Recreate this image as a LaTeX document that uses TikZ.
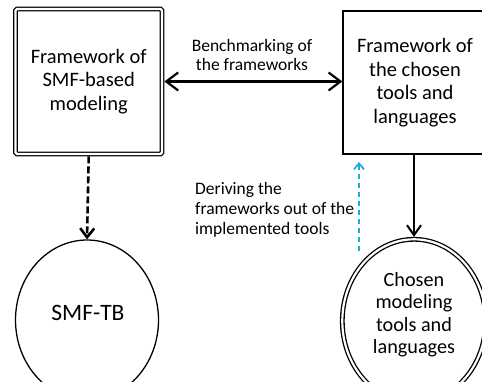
\documentclass[tikz,border=0pt]{standalone}
\usepackage{fontspec}
\setmainfont{Carlito}
\usetikzlibrary{arrows.meta,shapes.geometric}
\definecolor{lblue}{RGB}{30,170,230}
\tikzset{
  mainfont/.style={font=\fontsize{20.5}{23.7}\selectfont},
  smallfont/.style={font=\fontsize{17.5}{19.8}\selectfont},
  dblbox/.style={draw, double, double distance=2.2pt, line width=1.3pt, rounded corners=1.5pt,
     outer sep=2.4pt, inner sep=0pt, align=center, mainfont},
  plainbox/.style={draw, line width=1.3pt, outer sep=0.6pt, inner sep=0pt, align=center, mainfont},
  ell/.style={draw, ellipse, line width=1.3pt, inner sep=0pt, outer sep=0.6pt},
  dblell/.style={draw, ellipse, double, double distance=2.2pt, line width=1.3pt, inner sep=0pt, outer sep=2.4pt},
  conn/.style={line width=2.2pt},
}
\begin{document}
\begin{tikzpicture}[x=1pt,y=-1pt]
\useasboundingbox (0,0) rectangle (482,381);
\clip (0,0) rectangle (482,381);
% boxes
\node[dblbox, minimum width=146.5pt, minimum height=145pt] (smfbox) at (88.7,81.5)
  {Framework of\\SMF-based\\modeling};
\node[plainbox, minimum width=144pt, minimum height=143pt] (toolbox) at (415,82.5)
  {Framework of\\the chosen\\tools and\\languages};
% ellipses
\node[ell, minimum width=143pt, minimum height=160pt] (smfell) at (87,320) {};
\node[font=\fontsize{23.5}{28}\selectfont] (smftxt) at (88,313) {SMF-TB};
\node[dblell, minimum width=143.4pt, minimum height=163.4pt] (chosenell) at (414,321) {};
\node[align=center, font=\fontsize{20.2}{22.5}\selectfont] (chosentxt) at (414,314.5)
  {Chosen\\modeling\\tools and\\languages};
% connectors
\draw[conn, {Straight Barb[length=12pt, width=18pt]}-{Straight Barb[length=12pt, width=18pt]}]
  (smfbox.east) -- (toolbox.west |- smfbox.east);
\node[smallfont, align=center] (benchlbl) at (252,55) {Benchmarking of\\the frameworks};
\draw[line width=2.6pt, dash pattern=on 7pt off 3pt, -{Straight Barb[length=9pt, width=14pt]}]
  (smfbox.south) -- (smfell.north);
\draw[line width=2pt, -{Straight Barb[length=10pt, width=14pt]}]
  (toolbox.south -| chosenell.north) -- (chosenell.north);
\coordinate (bstart) at (359,251);
\coordinate (bend) at (359,162);
\draw[lblue, line width=1.7pt, dash pattern=on 5pt off 4pt, -{Straight Barb[length=6pt, width=10pt]}]
  (bstart) -- (bend);
\node[smallfont, align=left, anchor=west, inner sep=0pt] (derivlbl) at (195,210)
  {Deriving the\\frameworks out of the\\implemented tools};
\end{tikzpicture}
\end{document}
